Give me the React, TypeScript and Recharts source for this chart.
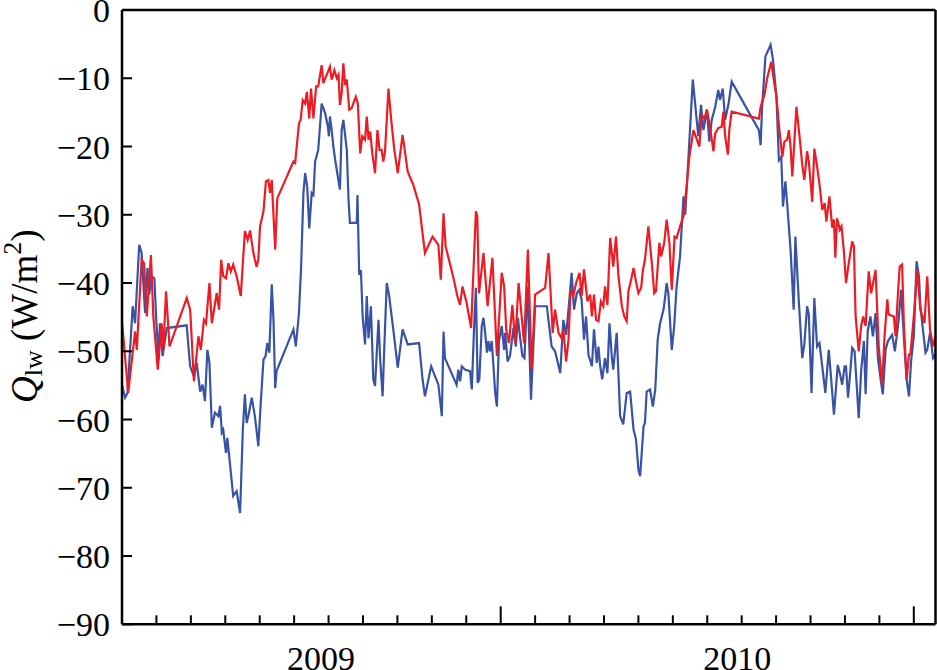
import { LineChart, Line, XAxis, YAxis, Label } from "recharts";

// x values are months counted from the left edge of the plot; Q_lw in W/m2
const T_MAX = 23.63;
const monthTicks = Array.from({ length: 24 }, (_, i) => i);
const majorTicks = [11, 23];
const yearTicks = [5.78, 17.87];
const yearLabels = ["2009", "2010"];
const yTicks = [0, -10, -20, -30, -40, -50, -60, -70, -80, -90];

const blue: [number, number][] = [
  [0, -54.9], [0.09, -56.8], [0.16, -56.1], [0.31, -43.4], [0.38, -45.9], [0.5, -34.4],
  [0.57, -35.6], [0.67, -44.4], [0.74, -37.8], [0.79, -41.7], [0.86, -39.0], [0.94, -39.3],
  [0.99, -44.9], [1.06, -51.2], [1.1, -45.9], [1.18, -50.7], [1.3, -46.6], [1.88, -46.2],
  [1.93, -49.3], [1.98, -52.2], [2.09, -53.7], [2.17, -51.7], [2.27, -55.9], [2.34, -54.9],
  [2.41, -57.3], [2.48, -49.8], [2.54, -51.7], [2.61, -61.2], [2.7, -59.0], [2.8, -59.5],
  [2.85, -58.0], [2.9, -61.9], [2.94, -61.5], [3.02, -64.9], [3.06, -62.7], [3.23, -71.2],
  [3.33, -70.5], [3.43, -73.7], [3.51, -61.5], [3.57, -56.3], [3.62, -60.5], [3.67, -59.5],
  [3.77, -56.8], [3.86, -59.5], [3.96, -63.9], [4.03, -57.6], [4.11, -51.2], [4.17, -50.7],
  [4.22, -48.8], [4.28, -50.2], [4.35, -40.2], [4.4, -45.4], [4.45, -55.4], [4.49, -52.9],
  [4.98, -46.8], [5.05, -49.3], [5.14, -44.4], [5.2, -38.0], [5.27, -26.8], [5.32, -23.9],
  [5.38, -25.9], [5.44, -32.0], [5.51, -26.8], [5.56, -27.1], [5.61, -22.2], [5.7, -20.5],
  [5.8, -13.7], [5.9, -15.1], [5.98, -17.1], [6.01, -18.5], [6.04, -15.6], [6.09, -17.6],
  [6.14, -20.0], [6.19, -21.9], [6.33, -26.3], [6.38, -17.6], [6.43, -16.1], [6.53, -20.5],
  [6.58, -27.8], [6.62, -31.2], [6.82, -31.2], [6.84, -27.1], [6.89, -38.8], [6.94, -38.1],
  [6.99, -44.9], [7.06, -49.0], [7.11, -41.9], [7.16, -48.1], [7.23, -43.4], [7.3, -54.1],
  [7.35, -55.1], [7.45, -45.4], [7.5, -51.2], [7.57, -56.6], [7.62, -49.3], [7.69, -40.0],
  [7.76, -41.9], [7.88, -46.8], [8.01, -52.4], [8.15, -46.8], [8.3, -49.0], [8.63, -48.8],
  [8.73, -54.1], [8.8, -56.6], [8.98, -52.2], [9.19, -54.9], [9.29, -59.5], [9.34, -47.1],
  [9.38, -51.0], [9.72, -54.9], [9.77, -52.7], [9.82, -54.4], [9.87, -52.2], [9.97, -52.7],
  [10.11, -52.9], [10.16, -55.6], [10.24, -44.9], [10.28, -40.7], [10.33, -54.6], [10.38, -54.1],
  [10.45, -46.3], [10.5, -45.1], [10.55, -47.3], [10.6, -50.2], [10.64, -48.5], [10.69, -50.0],
  [10.74, -48.5], [10.79, -52.2], [10.84, -56.1], [10.89, -58.1], [10.95, -48.5], [11.03, -46.3],
  [11.1, -49.8], [11.13, -47.3], [11.2, -51.5], [11.27, -50.7], [11.37, -46.6], [11.44, -49.3],
  [11.5, -45.1], [11.56, -47.8], [11.63, -50.7], [11.69, -51.0], [11.78, -40.5], [11.88, -57.1],
  [12.0, -43.4], [12.34, -43.4], [12.48, -49.3], [12.58, -50.0], [12.73, -53.2], [12.82, -45.4],
  [12.9, -47.6], [12.97, -43.9], [13.06, -38.5], [13.13, -43.9], [13.21, -41.5], [13.28, -41.0],
  [13.35, -42.4], [13.42, -48.3], [13.48, -44.9], [13.55, -50.5], [13.65, -52.2], [13.71, -46.8],
  [13.79, -51.7], [13.84, -49.3], [13.89, -52.2], [13.95, -54.1], [14.03, -51.0], [14.1, -53.2],
  [14.16, -45.9], [14.23, -51.0], [14.27, -52.7], [14.37, -47.3], [14.47, -59.5], [14.56, -60.7],
  [14.66, -56.1], [14.76, -55.9], [14.86, -61.5], [14.93, -62.9], [15.0, -67.3], [15.05, -68.3],
  [15.15, -61.0], [15.19, -60.5], [15.24, -55.9], [15.34, -55.6], [15.42, -58.1], [15.49, -55.6],
  [15.56, -48.3], [15.63, -45.9], [15.73, -43.9], [15.78, -41.9], [15.82, -40.0], [15.87, -41.5],
  [15.97, -49.8], [16.04, -46.3], [16.11, -40.5], [16.21, -36.1], [16.31, -27.3], [16.36, -30.0],
  [16.45, -22.0], [16.58, -10.2], [16.74, -18.5], [16.82, -13.9], [16.89, -17.6], [16.99, -14.6],
  [17.06, -19.3], [17.13, -16.1], [17.23, -14.2], [17.32, -11.7], [17.37, -13.2], [17.45, -11.5],
  [17.52, -16.1], [17.62, -13.7], [17.71, -10.5], [18.5, -17.6], [18.55, -19.8], [18.59, -14.6],
  [18.69, -6.8], [18.84, -5.1], [18.91, -7.3], [19.01, -12.7], [19.08, -22.0], [19.15, -21.5],
  [19.2, -28.8], [19.27, -25.1], [19.32, -28.3], [19.42, -35.1], [19.51, -43.9], [19.56, -33.2],
  [19.66, -42.7], [19.76, -51.0], [19.82, -49.0], [19.9, -43.4], [19.95, -44.6], [20.03, -56.1],
  [20.11, -42.2], [20.19, -49.3], [20.26, -48.8], [20.34, -52.2], [20.43, -56.1], [20.53, -49.8],
  [20.6, -54.1], [20.68, -59.3], [20.79, -52.0], [20.85, -53.2], [20.92, -54.9], [20.99, -52.2],
  [21.03, -52.2], [21.09, -56.8], [21.16, -52.7], [21.21, -49.5], [21.28, -50.0], [21.33, -54.1],
  [21.4, -59.8], [21.47, -52.9], [21.55, -48.5], [21.6, -56.3], [21.66, -47.1], [21.74, -44.9],
  [21.81, -47.8], [21.89, -44.4], [21.96, -51.2], [22.05, -54.6], [22.1, -56.3], [22.18, -49.8],
  [22.25, -48.5], [22.37, -47.6], [22.45, -50.0], [22.56, -45.4], [22.63, -41.0], [22.71, -47.8],
  [22.79, -54.1], [22.86, -56.6], [22.92, -51.5], [23.0, -47.8], [23.08, -36.8], [23.15, -39.0],
  [23.19, -43.4], [23.34, -50.2], [23.39, -49.8], [23.47, -47.3], [23.56, -51.0], [23.63, -50.5],
];

const red: [number, number][] = [
  [0, -45.6], [0.18, -56.1], [0.38, -47.1], [0.43, -49.8], [0.57, -36.6], [0.64, -37.1],
  [0.72, -44.9], [0.84, -35.9], [0.91, -44.9], [1.04, -52.7], [1.15, -45.9], [1.2, -49.8],
  [1.28, -41.2], [1.38, -49.3], [1.88, -42.2], [1.98, -43.9], [2.09, -54.4], [2.22, -47.8],
  [2.29, -49.8], [2.38, -45.4], [2.44, -45.9], [2.54, -40.0], [2.61, -45.9], [2.75, -41.5],
  [2.82, -43.9], [2.88, -36.6], [2.94, -39.0], [3.02, -39.3], [3.09, -37.1], [3.16, -38.3],
  [3.23, -37.3], [3.33, -39.0], [3.45, -41.9], [3.51, -37.1], [3.57, -32.4], [3.65, -33.7],
  [3.72, -32.3], [3.8, -35.1], [3.86, -36.6], [3.91, -37.6], [3.96, -36.6], [4.01, -31.7],
  [4.11, -29.5], [4.18, -25.1], [4.25, -24.9], [4.3, -26.8], [4.35, -24.9], [4.45, -35.1],
  [4.51, -27.6], [4.98, -22.2], [5.03, -22.4], [5.14, -16.6], [5.19, -16.1], [5.25, -13.2],
  [5.32, -13.7], [5.37, -12.0], [5.44, -15.9], [5.49, -11.5], [5.56, -15.9], [5.64, -11.2],
  [5.7, -11.2], [5.8, -8.1], [5.85, -10.7], [6.0, -8.8], [6.04, -8.3], [6.09, -10.2],
  [6.17, -8.8], [6.24, -10.0], [6.29, -9.5], [6.33, -13.9], [6.38, -12.2], [6.43, -7.8],
  [6.48, -11.0], [6.53, -10.2], [6.6, -14.6], [6.67, -14.4], [6.79, -12.7], [6.85, -13.7],
  [6.92, -21.0], [6.98, -18.5], [7.06, -19.0], [7.11, -15.6], [7.16, -19.0], [7.21, -17.8],
  [7.27, -21.0], [7.35, -23.9], [7.42, -17.6], [7.48, -20.5], [7.54, -20.5], [7.59, -22.2],
  [7.64, -20.7], [7.74, -11.5], [7.82, -16.1], [7.91, -20.5], [8.01, -23.9], [8.15, -18.3],
  [8.3, -23.7], [8.46, -25.6], [8.63, -28.5], [8.8, -35.6], [9.02, -33.2], [9.19, -34.4],
  [9.26, -39.5], [9.34, -29.8], [9.4, -34.6], [9.63, -39.3], [9.74, -41.9], [9.82, -43.2],
  [9.89, -40.5], [10.01, -42.9], [10.14, -46.6], [10.28, -29.5], [10.32, -30.2], [10.37, -41.5],
  [10.5, -35.6], [10.62, -43.4], [10.76, -36.3], [10.89, -50.7], [11.03, -38.5], [11.1, -40.5],
  [11.16, -46.8], [11.24, -48.8], [11.34, -43.2], [11.42, -48.8], [11.52, -40.0], [11.68, -48.8],
  [11.79, -35.1], [11.9, -52.7], [12.0, -41.7], [12.29, -40.7], [12.39, -35.6], [12.51, -47.3],
  [12.58, -43.9], [12.68, -47.3], [12.77, -48.1], [12.82, -46.8], [12.9, -51.5], [12.97, -48.3],
  [13.03, -41.0], [13.11, -41.9], [13.19, -40.0], [13.29, -38.5], [13.35, -41.9], [13.42, -38.0],
  [13.52, -42.7], [13.6, -41.7], [13.65, -44.9], [13.71, -41.7], [13.77, -45.4], [13.84, -45.6],
  [13.91, -42.7], [13.98, -43.4], [14.03, -40.5], [14.1, -43.2], [14.18, -33.4], [14.27, -37.6],
  [14.35, -33.2], [14.42, -39.0], [14.52, -43.4], [14.59, -44.9], [14.66, -45.6], [14.71, -41.2],
  [14.79, -39.5], [14.86, -37.8], [14.93, -39.8], [15.0, -41.5], [15.08, -40.7], [15.13, -38.1],
  [15.19, -36.6], [15.29, -31.7], [15.39, -37.1], [15.46, -41.5], [15.51, -41.2], [15.61, -34.1],
  [15.66, -36.1], [15.75, -34.1], [15.82, -30.7], [15.9, -34.1], [15.97, -41.0], [16.05, -33.2],
  [16.11, -33.4], [16.21, -31.7], [16.31, -30.2], [16.41, -25.4], [16.48, -21.5], [16.6, -17.6],
  [16.7, -19.0], [16.77, -20.0], [16.84, -15.4], [16.92, -15.9], [16.99, -14.6], [17.08, -17.1],
  [17.18, -20.7], [17.23, -18.1], [17.32, -17.3], [17.42, -17.1], [17.47, -14.9], [17.52, -18.5],
  [17.6, -21.2], [17.64, -17.6], [17.71, -14.9], [18.5, -15.9], [18.55, -14.2], [18.66, -12.4],
  [18.74, -10.0], [18.86, -7.6], [18.93, -10.2], [19.01, -12.7], [19.08, -16.8], [19.18, -21.5],
  [19.24, -19.3], [19.32, -19.0], [19.37, -17.6], [19.42, -20.0], [19.47, -24.4], [19.59, -14.2],
  [19.69, -19.0], [19.76, -22.7], [19.82, -24.9], [19.9, -20.7], [19.95, -22.2], [20.05, -28.1],
  [20.11, -20.3], [20.19, -22.9], [20.27, -25.9], [20.34, -29.3], [20.41, -28.3], [20.46, -31.0],
  [20.55, -27.3], [20.63, -31.9], [20.68, -30.7], [20.72, -36.3], [20.77, -30.5], [20.85, -32.2],
  [20.9, -31.7], [20.97, -35.4], [21.03, -40.0], [21.11, -37.1], [21.21, -33.9], [21.26, -34.6],
  [21.31, -44.9], [21.4, -50.0], [21.47, -46.3], [21.53, -44.9], [21.6, -46.3], [21.69, -38.3],
  [21.76, -41.5], [21.89, -38.1], [21.98, -49.3], [22.08, -54.9], [22.15, -47.8], [22.23, -42.4],
  [22.27, -44.6], [22.42, -44.9], [22.47, -47.8], [22.54, -41.5], [22.59, -37.6], [22.66, -37.3],
  [22.71, -45.9], [22.79, -54.2], [22.86, -50.5], [22.9, -50.5], [23.0, -44.9], [23.1, -38.1],
  [23.19, -43.9], [23.31, -45.9], [23.39, -39.0], [23.47, -46.8], [23.56, -49.3], [23.63, -47.8],
];

const blueData = blue.map(([t, q]) => ({ t, q }));
const redData = red.map(([t, q]) => ({ t, q }));
const bottomTicks = [...monthTicks, ...yearTicks].sort((a, b) => a - b);

const FONT = '"Liberation Serif", Tinos, "Times New Roman", Times, "DejaVu Serif", serif';
const textStyle = { fontFamily: FONT };
const axisLine = { stroke: "#000", strokeWidth: 2.5 };

// dir: -1 draws the tick upward (bottom axis), 1 downward (top axis)
function MonthTick(props: any) {
  const { x, y, payload, dir } = props;
  const yi = yearTicks.indexOf(payload.value);
  if (yi >= 0) {
    return (
      <text x={x} y={y} dy={46} textAnchor="middle" style={textStyle} fontSize={34} fill="#000">
        {yearLabels[yi]}
      </text>
    );
  }
  const len = majorTicks.includes(payload.value) ? 18 : 9;
  return <line x1={x} y1={y} x2={x} y2={y + dir * len} stroke="#000" strokeWidth={2} />;
}

function LeftTick(props: any) {
  const { x, y, payload } = props;
  const v = payload.value;
  const txt = v === 0 ? "0" : "\u2212" + Math.abs(v);
  return (
    <g>
      <line x1={x} y1={y} x2={x + 10} y2={y} stroke="#000" strokeWidth={2} />
      <text x={x - 12} y={y} dy={12} textAnchor="end" style={textStyle} fontSize={34} fill="#000">
        {txt}
      </text>
    </g>
  );
}

function RightTick(props: any) {
  const { x, y } = props;
  return <line x1={x} y1={y} x2={x - 9} y2={y} stroke="#000" strokeWidth={2} />;
}

function YLabel(props: any) {
  const { viewBox } = props;
  const cx = 37;
  const cy = viewBox.y + viewBox.height / 2 - 1;
  return (
    <text
      x={cx}
      y={cy}
      transform={`rotate(-90, ${cx}, ${cy})`}
      textAnchor="middle"
      style={textStyle}
      fontSize={37}
      fill="#000"
    >
      <tspan fontStyle="italic">Q</tspan>
      <tspan fontSize={26} dy={5}>lw</tspan>
      <tspan dy={-5}> (W/m</tspan>
      <tspan fontSize={26} dy={-16}>2</tspan>
      <tspan dy={16}>)</tspan>
    </text>
  );
}

export default function App() {
  return (
    <div style={{ position: "absolute", left: 0, top: 0, background: "#fff" }}>
      <LineChart width={937} height={670} margin={{ top: 9, right: 0.5, bottom: 0, left: 0 }}>
        <XAxis
          dataKey="t"
          type="number"
          domain={[0, T_MAX]}
          ticks={bottomTicks}
          interval={0}
          height={45.7}
          tickSize={0}
          tickMargin={0}
          tickLine={false}
          axisLine={axisLine}
          tick={(p: any) => <MonthTick {...p} dir={-1} />}
        />
        <XAxis
          xAxisId="top"
          orientation="top"
          type="number"
          domain={[0, T_MAX]}
          ticks={monthTicks}
          interval={0}
          height={1}
          tickSize={0}
          tickMargin={0}
          tickLine={false}
          axisLine={axisLine}
          tick={(p: any) => <MonthTick {...p} dir={1} />}
        />
        <YAxis
          type="number"
          domain={[-90, 0]}
          ticks={yTicks}
          interval={0}
          width={122}
          tickSize={0}
          tickMargin={0}
          tickLine={false}
          axisLine={axisLine}
          tick={(p: any) => <LeftTick {...p} />}
        >
          <Label content={(p: any) => <YLabel {...p} />} />
        </YAxis>
        <YAxis
          yAxisId="right"
          orientation="right"
          type="number"
          domain={[-90, 0]}
          ticks={yTicks}
          interval={0}
          width={1}
          tickSize={0}
          tickMargin={0}
          tickLine={false}
          axisLine={axisLine}
          tick={(p: any) => <RightTick {...p} />}
        />
        <Line
          data={blueData}
          dataKey="q"
          type="linear"
          stroke="#3953a4"
          strokeWidth={2.2}
          dot={false}
          isAnimationActive={false}
        />
        <Line
          data={redData}
          dataKey="q"
          type="linear"
          stroke="#ed1c24"
          strokeWidth={2.2}
          dot={false}
          isAnimationActive={false}
        />
      </LineChart>
    </div>
  );
}
